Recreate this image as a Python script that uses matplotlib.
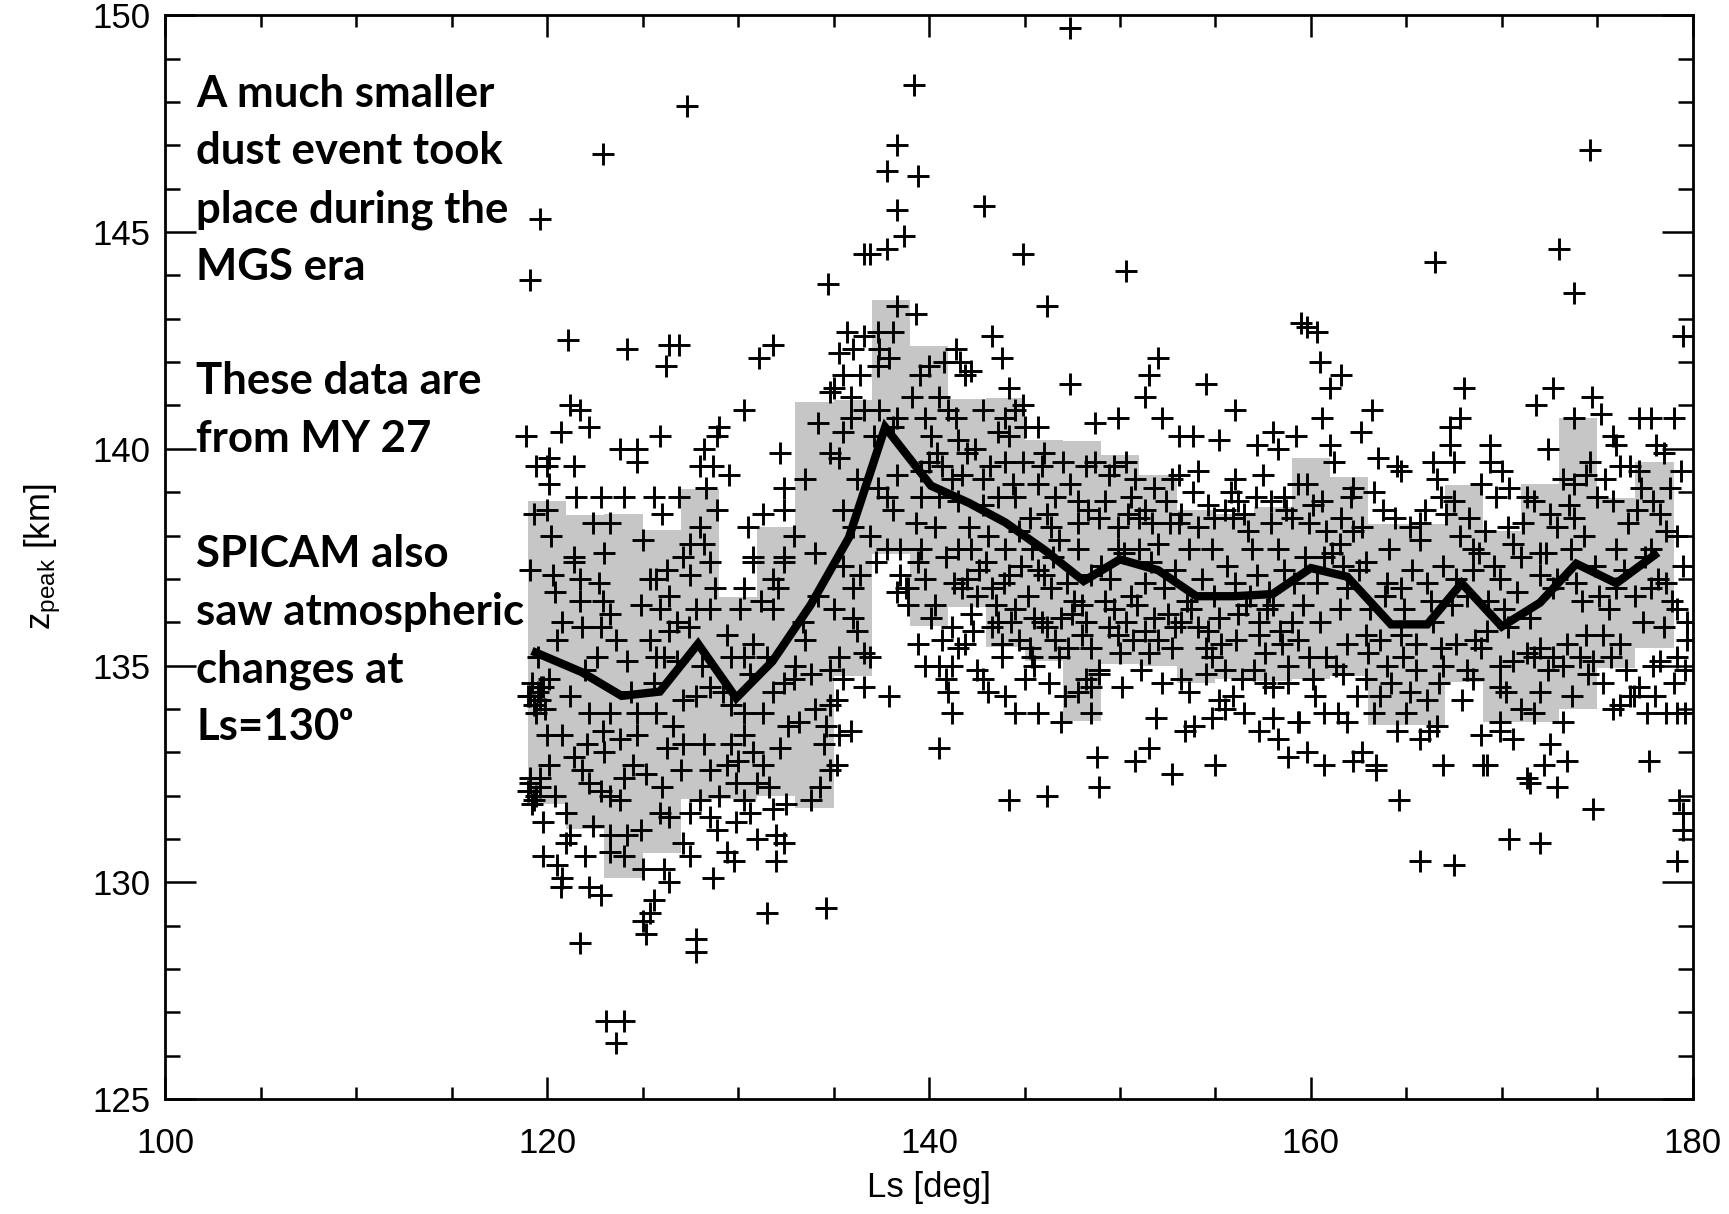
import numpy as np
import matplotlib
matplotlib.use("Agg")
import matplotlib.pyplot as plt
from matplotlib.ticker import MultipleLocator

# ---------------- data ----------------
# binned statistics (2-deg Ls bins): left edge, mean, std
bin_left = [119, 121, 123, 125, 127, 129, 131, 133, 135, 137, 139, 141, 143, 145, 147,
            149, 151, 153, 155, 157, 159, 161, 163, 165, 167, 169, 171, 173, 175, 177]
bin_mean = [135.3, 134.85, 134.3, 134.4, 135.5, 134.25, 135.1, 136.4, 137.95, 140.5,
            139.15, 138.75, 138.3, 137.65, 136.95, 137.45, 137.2, 136.6, 136.6, 136.65,
            137.25, 137.05, 135.95, 135.95, 136.9, 135.9, 136.45, 137.35, 136.9, 137.55]
bin_std = [3.5, 3.63, 4.19, 3.72, 3.57, 2.34, 3.1, 4.68, 3.18, 2.93,
           3.23, 2.4, 2.87, 2.55, 3.24, 2.41, 2.2, 2.0, 1.9, 2.0,
           2.55, 2.3, 2.32, 2.32, 2.27, 2.2, 2.75, 3.35, 1.96, 2.15]
line_ls = [119.4, 121.8, 123.9, 125.9, 127.9, 129.9, 131.8, 133.8, 135.8, 137.7,
           140.1, 142.1, 144.0, 146.1, 148.1, 150.0, 152.0, 154.0, 156.0, 158.0,
           160.0, 161.9, 164.2, 166.1, 167.9, 170.0, 172.0, 173.9, 176.0, 178.0]

# individual measurements (Ls, z_peak)
pts_early_high = [
    (127.3,147.9),(122.9,146.8),(119.6,145.3),(119.1,143.9),(134.7,143.8),(121.1,142.5),(124.2,142.3),
    (126.4,142.4),(126.9,142.4),(126.2,141.9),(131.1,142.1),(131.8,142.4),(138.3,147.0),(137.8,146.4),
    (138.3,145.5),(138.7,144.9),(136.6,144.5),(136.9,144.5),(137.8,144.6),(138.3,143.3),(135.7,142.7),
    (136.6,142.6),(137.3,142.7),(138.1,142.7),(135.3,142.2),(136.0,142.3),(137.4,142.3),(137.9,142.1),
    (135.5,141.7),(136.4,141.7),(137.3,141.9),(135.0,141.4),(134.8,141.3),(135.9,141.2),(136.6,140.9),
    (137.4,140.9),(138.3,140.7),(135.9,140.7),(135.5,140.4),(137.1,140.3),(138.1,140.5),(134.8,139.9),
    (135.3,139.8),(138.3,139.4),(137.3,139.1),(137.8,138.9),(135.5,138.6),(138.1,138.6),(136.9,138.0),
    (137.8,137.7),(138.5,137.7),(121.2,141.0),(121.7,140.9),(118.9,140.3),(120.7,140.4),(122.2,140.5),
    (125.9,140.3),(129.0,140.5),(128.9,140.3),(130.3,140.9),(123.8,140.0),(124.7,140.0),(124.7,139.7),
    (128.2,140.0),(128.0,139.6),(128.7,139.6),(132.2,139.9),(120.1,139.8),(119.4,139.6),(120.0,139.6),
    (121.4,139.6),(120.1,139.2),(121.5,138.9),(122.8,138.9),(124.0,138.9),(125.6,138.9),(126.9,138.9),
    (128.3,139.1),(132.4,139.1),(132.4,138.6),(131.3,138.5),(128.9,138.6),(119.3,138.5),(120.0,138.6),
    (122.4,138.3),(123.3,138.3),(128.0,138.2),(127.5,137.8),(128.2,137.8),(127.1,137.5),(121.4,137.5),
    (130.8,137.5),(132.4,137.5),
    (120.2,138.0),(123.0,137.6),(125.0,137.9),(126.0,138.5),(129.5,139.4),(130.5,138.2),(132.9,138.0),
    (133.5,139.3),(134.2,140.6),(134.0,137.6),(136.2,139.3),(136.0,138.2),(137.2,137.4),
]
pts_early_low = [
    (119.1,137.2),(121.4,137.4),(120.3,137.1),(121.7,137.0),(120.4,136.7),(121.7,136.5),(122.9,136.5),
    (123.3,136.2),(120.8,136.0),(121.8,135.9),(122.8,135.9),(119.5,135.2),(122.6,135.2),(124.2,135.1),
    (125.7,135.2),(125.4,137.0),(126.3,137.2),(125.7,137.0),(127.5,137.1),(128.5,137.4),(130.8,137.4),
    (132.4,137.4),(130.3,136.8),(131.8,137.0),(132.1,136.8),(125.9,136.3),(126.4,136.6),(127.8,136.3),
    (128.5,136.3),(130.1,136.3),(131.8,136.3),(125.4,135.6),(126.4,135.8),(126.8,136.0),(129.4,135.7),
    (130.8,135.5),(131.5,135.2),(130.3,135.2),(129.6,135.2),(126.1,135.2),(126.8,135.1),
    (119.8,134.5),(120.1,134.7),(119.1,134.3),(119.6,134.2),(119.9,134.0),(119.0,134.3),(119.4,133.9),
    (122.2,133.9),(123.3,133.9),(124.7,133.9),(125.7,133.9),(127.1,134.2),(127.8,134.3),(128.5,134.5),
    (129.6,134.1),(130.3,133.9),(131.3,133.9),(131.8,134.4),(132.4,134.6),(132.9,134.7),
    (120.0,133.4),(120.8,133.4),(122.1,133.2),(122.9,133.5),(123.8,133.3),(124.7,133.4),(126.3,133.1),
    (127.1,133.2),(128.2,133.2),(129.6,133.2),(130.3,133.4),(130.8,133.0),(132.2,133.1),(134.5,133.2),
    (135.3,133.4),(135.9,133.5),
    (119.1,132.3),(119.6,132.4),(119.0,132.1),(119.3,131.9),(120.1,132.7),(121.4,132.9),(122.2,132.3),
    (122.8,132.1),(123.3,132.0),(123.8,131.9),(124.5,132.7),(125.2,132.5),(128.5,132.6),(129.4,132.7),
    (129.9,132.3),(131.0,132.3),(131.3,132.7),(130.3,131.9),(134.8,132.6),(135.2,132.7),
    (119.8,131.4),(121.0,131.6),(121.2,131.1),(122.4,131.3),(123.3,131.1),(124.2,131.1),(124.9,131.2),
    (125.9,131.6),(126.4,131.5),(127.5,131.6),(128.5,131.5),(128.9,131.2),(129.9,131.4),(130.6,131.6),
    (131.8,131.7),(132.5,131.8),(132.0,131.1),(132.4,130.9),
    (119.8,130.6),(120.5,130.4),(120.8,130.1),(120.7,129.9),(123.3,130.7),(124.0,130.6),(125.0,130.3),
    (126.1,130.3),(126.4,130.0),(127.1,130.9),(128.7,130.1),(129.4,130.7),(132.0,130.5),
    (122.2,129.9),(122.8,129.7),(125.6,129.6),(125.4,129.3),(125.0,129.1),(125.2,128.8),(121.7,128.6),
    (127.8,128.7),(127.8,128.4),(131.5,129.3),(134.6,129.4),
    (123.1,126.8),(124.0,126.8),(123.6,126.3),
    (135.5,137.3),(136.4,137.1),(136.0,136.8),(138.5,137.1),(138.3,136.7),(138.8,136.8),(136.0,136.1),
    (136.2,135.8),(136.6,135.3),(135.3,135.2),(136.9,135.2),(134.8,134.9),(135.5,134.7),(136.6,134.5),
    (137.9,134.3),(135.2,134.2),(134.8,134.1),
    (119.2,134.6),(119.5,134.4),(119.3,134.1),(119.7,134.5),(119.1,132.4),(119.4,132.0),(119.2,131.8),
    (119.6,132.2),(133.5,135.6),(134.0,134.0),(133.2,133.7),(134.3,132.2),(133.8,131.9),(134.6,133.6),
    (133.4,136.0),(134.2,136.6),
    (120.5,135.6),(121.2,134.3),(122.0,134.9),(122.7,136.9),(123.6,135.6),(124.4,134.4),(124.9,136.4),
    (125.6,134.6),(126.6,133.6),(127.4,135.9),(128.1,135.0),(128.8,136.8),(129.2,134.4),(130.6,134.8),
    (131.2,136.5),(132.6,133.6),(133.0,135.0),(120.4,132.0),(121.8,132.6),(123.0,133.0),(124.0,132.4),
    (126.0,132.2),(127.0,132.6),(128.0,131.9),(129.0,132.0),(130.0,132.8),(131.6,132.2),(121.0,130.9),
    (122.0,130.6),(127.5,130.6),(129.8,130.5),(131.0,131.0),(135.0,136.3),(133.8,134.8),
]
pts_mid_high = [
    (147.4,149.7),(139.2,148.4),(139.4,146.3),(142.9,145.6),(144.9,144.5),(150.3,144.1),(146.2,143.3),
    (139.3,143.1),(159.5,142.9),(143.3,142.6),(143.8,142.1),(141.9,141.7),(142.2,141.8),(141.4,142.3),
    (140.8,142.0),(141.6,142.0),(139.5,141.7),(140.0,141.9),(152.0,142.1),(151.5,141.7),(151.3,141.2),
    (154.5,141.5),(147.4,141.5),(144.2,141.4),(156.0,140.9),(158.0,140.4),(159.2,140.3),(157.2,140.1),
    (158.3,140.0),(139.1,141.2),(140.5,141.2),(141.0,140.9),(139.8,140.7),(141.4,140.7),(142.8,140.9),
    (144.0,140.7),(144.5,140.9),(144.9,141.0),(145.7,140.5),(145.0,140.5),(140.1,140.3),(141.5,140.2),
    (142.4,140.0),(143.6,140.4),(144.2,140.3),(148.7,140.6),(149.9,140.7),(152.2,140.7),(153.1,140.3),
    (153.8,140.3),(155.2,140.2),(140.0,139.7),(140.7,139.6),(141.7,139.4),(142.8,139.3),(144.0,139.7),
    (144.9,139.7),(145.9,139.6),(147.0,139.7),(148.2,139.6),(148.7,139.7),(149.7,139.6),(150.3,139.7),
    (150.8,139.3),(152.7,139.3),(153.1,139.4),(154.1,139.5),(156.0,139.3),(157.1,138.9),(158.6,138.9),
    (159.3,139.2),(139.6,138.9),(140.5,138.9),(141.5,138.8),(142.8,138.7),(143.6,138.9),(144.5,138.9),
    (145.7,139.2),(146.6,138.9),(147.8,138.8),(149.2,138.8),(150.6,138.9),(151.3,138.6),(152.4,138.8),
    (153.2,138.5),(154.6,138.7),(155.5,138.6),(156.2,138.8),(157.9,138.8),(139.3,138.3),(140.3,138.2),
    (142.1,138.2),(143.1,138.0),(144.7,138.1),(146.2,138.5),(146.4,138.2),(147.8,138.3),(148.9,138.4),
    (149.9,138.2),(151.0,138.4),(151.7,138.3),(153.1,138.3),(154.1,138.2),(155.9,138.4),(156.7,138.1),
    (157.9,138.3),(159.0,138.4),(139.6,137.7),(141.5,137.7),(142.2,137.7),(144.0,137.7),(145.4,137.7),
    (146.8,137.9),(147.8,137.7),(149.9,137.7),(151.0,137.7),(152.0,137.8),(153.6,137.7),(154.8,137.7),
    (156.9,137.7),(158.3,137.7),
    (139.6,139.5),(140.4,139.9),(141.2,139.3),(142.0,139.9),(143.2,139.6),(144.4,139.2),(145.3,138.4),
    (146.0,139.9),(147.4,139.2),(148.3,138.6),(149.4,139.4),(150.4,138.5),(151.8,139.1),(152.6,138.3),
    (153.8,139.0),(154.9,138.4),(155.8,139.0),(156.5,138.5),(157.5,139.4),(158.7,138.6),
]
pts_mid_low = [
    (139.4,137.4),(141.7,136.8),(142.6,137.2),(143.3,136.8),(144.2,137.1),(143.5,136.4),(144.5,136.3),
    (142.2,136.2),(138.9,136.8),(138.9,136.4),(146.4,136.8),(145.7,137.2),(146.9,136.1),(148.0,136.4),
    (148.2,136.0),(149.2,136.5),(149.7,136.3),(150.6,136.6),(151.3,136.9),(151.8,136.1),(152.5,136.2),
    (153.2,136.0),(154.1,135.9),(155.2,136.1),(156.2,136.2),(157.3,136.0),(158.0,136.4),(159.0,136.0),
    (141.2,135.9),(141.9,135.5),(139.4,135.5),(141.5,135.4),(143.6,136.0),(143.8,135.5),(143.8,135.2),
    (144.7,135.6),(145.5,136.1),(145.9,136.0),(146.6,135.6),(147.3,135.4),(146.8,135.2),(148.5,135.4),
    (148.9,134.9),(149.9,135.7),(150.3,136.0),(151.3,135.8),(152.0,135.6),(152.7,135.4),(154.5,135.4),
    (154.8,135.2),(155.5,134.9),(157.3,135.7),(157.6,135.3),(158.5,135.5),(158.8,135.0),(159.3,135.6),
    (139.8,135.0),(140.5,135.0),(141.2,135.0),(141.0,134.4),(142.8,134.7),(143.1,134.4),(145.4,135.2),
    (145.5,135.0),(145.0,134.7),(147.1,134.3),(148.2,134.7),(148.5,134.5),(148.9,134.8),(152.2,134.6),
    (153.2,134.7),(154.5,134.8),(156.4,134.7),(157.6,134.6),(158.0,134.5),(158.8,134.6),
    (141.2,133.9),(144.5,133.9),(145.7,133.9),(146.9,133.7),(148.5,133.9),(151.9,133.8),(153.4,133.5),
    (153.9,133.6),(154.8,133.8),(155.2,134.2),(155.5,134.0),(156.5,133.9),(157.3,133.5),(158.0,133.8),
    (158.3,133.3),(159.3,133.7),(140.5,133.1),(148.8,132.9),(150.8,132.8),(151.5,133.1),(152.7,132.5),
    (155.0,132.7),(158.8,132.9),(144.2,131.9),(146.2,132.0),(148.9,132.2),
    (139.8,137.0),(140.3,136.4),(140.9,137.5),(141.3,136.9),(142.0,137.0),(142.5,136.6),(143.0,137.4),
    (143.9,136.9),(144.8,137.3),(145.2,136.6),(146.0,137.1),(146.5,137.5),(147.2,136.9),(147.6,136.5),
    (148.5,137.1),(149.0,137.3),(149.5,137.0),(150.2,137.6),(150.9,136.4),(151.6,137.4),(152.3,136.8),
    (152.9,137.2),(153.5,136.5),(154.3,137.0),(154.9,136.6),(155.6,137.3),(156.0,136.9),(156.6,136.4),
    (157.2,137.1),(157.8,136.7),(158.6,137.2),(159.1,136.9),
    (140.1,136.1),(140.7,135.6),(142.3,135.8),(143.3,135.9),(144.3,136.0),(145.3,135.4),(146.2,135.9),
    (147.5,136.2),(148.0,135.7),(149.4,135.9),(150.0,135.3),(150.7,135.6),(151.5,135.3),(152.9,135.9),
    (153.7,136.3),(154.6,135.8),(155.3,135.5),(156.1,135.6),(156.8,136.6),(157.7,136.3),(158.4,135.8),
    (140.9,134.7),(142.5,134.9),(144.0,134.3),(146.3,134.6),(147.8,134.4),(150.1,134.5),(151.1,134.9),
    (153.6,134.4),(155.9,134.3),(157.0,134.9),
]
pts_late_high = [
    (174.6,146.9),(166.5,144.3),(173.0,144.6),(173.8,143.6),(179.5,142.6),(159.8,142.8),(160.3,142.7),
    (160.5,142.0),(161.6,141.7),(161.0,141.4),(160.6,140.7),(161.0,140.1),(161.2,139.7),(162.6,140.4),
    (163.2,140.9),(163.5,139.8),(164.5,139.6),(164.7,139.5),(166.4,139.7),(167.3,140.5),(167.8,140.7),
    (168.0,141.4),(167.3,140.1),(167.5,139.7),(169.4,140.1),(169.4,139.7),(172.4,140.0),(171.8,141.0),
    (172.7,141.4),(174.7,141.2),(175.2,140.8),(175.8,140.3),(176.0,140.1),(173.8,140.7),(177.2,140.7),
    (177.8,140.7),(179.0,140.7),(178.1,140.1),(178.5,139.9),(176.7,139.6),(177.2,139.5),(176.2,139.6),
    (159.8,139.2),(160.1,138.7),(162.2,139.1),(162.1,138.9),(163.8,138.6),(165.2,138.2),(165.7,138.3),
    (166.8,138.9),(167.5,138.8),(167.1,138.5),(168.9,139.2),(169.7,138.9),(170.4,139.1),(171.3,138.9),
    (171.7,138.8),(172.5,138.5),(173.2,139.3),(173.8,139.2),(174.4,139.4),(175.0,138.9),(175.8,138.8),
    (177.1,138.6),(177.9,138.8),(178.8,139.1),(160.8,138.1),(161.5,137.8),(162.2,138.1),(164.1,137.7),
    (165.7,137.9),(167.8,138.0),(168.5,137.7),(170.3,138.2),(170.6,137.8),(172.0,137.6),(173.8,138.4),
    (174.3,138.0),(176.0,137.7),(177.8,137.7),(178.6,138.1),(179.2,138.0),
    (159.9,138.3),(160.6,138.8),(161.6,138.4),(162.7,138.2),(163.3,139.0),(164.4,138.4),(166.0,138.6),
    (166.6,139.3),(168.3,138.4),(169.1,138.1),(170.0,139.5),(171.1,138.3),(172.9,138.2),(173.5,138.7),
    (174.6,139.7),(175.4,139.3),(176.6,138.3),(177.3,139.1),(178.3,138.5),(179.4,139.5),
]
pts_late_low = [
    (160.7,137.5),(161.7,137.3),(162.9,137.4),(164.0,136.9),(164.7,136.8),(166.1,136.9),(167.6,137.0),
    (168.5,137.2),(169.6,137.3),(169.9,137.0),(171.0,137.5),(172.0,137.1),(172.7,136.8),(173.9,136.9),
    (175.1,136.6),(176.0,136.8),(177.8,136.8),(178.6,136.9),(179.2,136.3),(159.6,136.4),(160.5,136.0),
    (161.5,136.3),(161.9,135.5),(162.9,135.7),(163.6,135.6),(164.7,135.7),(165.5,135.5),(166.4,136.0),
    (166.8,135.4),(167.6,135.5),(168.9,135.4),(169.2,135.8),(170.3,135.9),(171.3,135.3),(172.0,135.4),
    (172.7,135.2),(173.4,135.5),(174.4,135.7),(175.3,135.7),(176.2,135.5),(177.4,136.0),(178.5,135.9),
    (179.7,136.0),(179.7,135.6),(159.9,135.2),(160.8,135.2),(161.7,134.8),(162.9,134.7),(164.0,135.0),
    (164.8,135.2),(165.5,134.9),(166.9,135.0),(168.2,134.9),(168.5,134.7),(169.9,135.0),(170.6,135.1),
    (171.7,135.2),(173.2,135.0),(174.1,135.2),(174.8,135.1),(175.7,135.2),(177.9,135.0),(178.3,135.1),
    (179.2,135.2),(160.1,134.7),(163.6,134.3),(165.2,134.4),(166.1,134.2),(169.9,134.5),(172.0,134.4),
    (175.3,134.6),(176.9,134.3),(159.4,133.7),(160.7,133.9),(161.4,133.9),(161.9,133.7),(163.3,133.9),
    (164.5,133.5),(165.7,133.3),(166.2,133.5),(166.6,133.6),(168.9,133.4),(169.9,133.7),(169.9,133.5),
    (170.6,133.3),(171.7,133.9),(172.5,133.2),(173.2,133.7),(175.8,134.0),(176.2,134.1),(176.7,134.3),
    (177.6,133.9),(178.6,133.9),(179.2,133.9),(159.8,133.0),(160.7,132.7),(162.2,132.8),(162.7,133.0),
    (163.4,132.7),(163.4,132.6),(166.9,132.7),(169.0,132.7),(169.2,132.7),(171.3,132.4),(171.5,132.3),
    (172.2,132.7),(173.4,132.8),(172.9,132.2),(177.7,132.8),(164.6,131.9),(174.8,131.7),(179.3,131.9),
    (170.4,131.0),(172.0,130.9),(165.7,130.5),(167.5,130.4),(179.2,130.5),(179.5,131.2),(179.5,131.6),
    (159.7,137.5),(160.3,136.9),(161.1,137.6),(161.9,136.8),(162.5,137.2),(163.1,136.3),(163.9,136.6),
    (164.9,136.3),(165.3,137.2),(166.3,136.5),(166.9,137.3),(167.4,136.4),(168.2,136.6),(168.8,137.6),
    (169.3,136.5),(170.1,136.3),(170.8,136.7),(171.5,136.1),(172.3,137.6),(172.9,137.0),(173.6,137.7),
    (174.2,136.5),(174.9,137.3),(175.6,136.3),(176.4,137.2),(177.0,136.6),(177.5,137.5),(178.2,137.0),
    (178.9,136.5),(179.5,137.3),
    (160.2,134.3),(161.3,135.0),(162.4,134.3),(163.0,135.3),(164.2,134.6),(165.0,133.9),(166.7,134.6),
    (167.9,134.2),(168.6,135.6),(170.2,134.4),(171.0,134.0),(172.4,134.9),(173.7,134.3),(174.5,134.8),
    (176.5,134.9),(177.2,134.5),(178.0,134.3),(179.0,134.6),(179.6,133.9),(179.6,134.9),
]

note_lines = ["A much smaller", "dust event took", "place during the", "MGS era", "",
              "These data are", "from MY 27", "",
              "SPICAM also", "saw atmospheric", "changes at", "Ls=130\u1d52"]

# ---------------- figure ----------------
plt.rcParams['font.family'] = ['Liberation Sans', 'DejaVu Sans']
plt.rcParams['mathtext.fontset'] = 'custom'
plt.rcParams['mathtext.rm'] = 'Liberation Sans'
plt.rcParams['mathtext.it'] = 'Liberation Sans'

W, H = 1729, 1214
fig = plt.figure(figsize=(W / 100, H / 100), dpi=100)
ax = fig.add_axes([165.4 / W, (H - 1099) / H, (1692.7 - 165.4) / W, (1099 - 15.4) / H])

bl = np.array(bin_left, float)
bm = np.array(bin_mean, float)
bs = np.array(bin_std, float)
ax.bar(bl, 2 * bs, bottom=bm - bs, width=2.0, align='edge', color='#c6c6c6',
       edgecolor='none', linewidth=0, zorder=1)

pts = np.array(pts_early_high + pts_early_low + pts_mid_high + pts_mid_low +
               pts_late_high + pts_late_low, float)
ax.plot(pts[:, 0], pts[:, 1], linestyle='none', marker='+', markersize=16,
        markeredgewidth=2.1, color='black', zorder=2, clip_on=True)

ax.plot(line_ls, bin_mean, color='black', linewidth=6, solid_joinstyle='miter',
        zorder=3)

ax.set_xlim(100, 180)
ax.set_ylim(125, 150)
ax.xaxis.set_major_locator(MultipleLocator(20))
ax.xaxis.set_minor_locator(MultipleLocator(5))
ax.yaxis.set_major_locator(MultipleLocator(5))
ax.yaxis.set_minor_locator(MultipleLocator(1))

for s in ax.spines.values():
    s.set_linewidth(2.0)
    s.set_color('black')

ax.tick_params(which='both', direction='in', top=True, right=True, width=1.8,
               colors='black', labelsize=25)
ax.xaxis.set_tick_params(which='major', length=15.5, pad=20)
ax.xaxis.set_tick_params(which='minor', length=8.3)
ax.yaxis.set_tick_params(which='major', length=22, pad=11)
ax.yaxis.set_tick_params(which='minor', length=10.8)

ax.set_xlabel('Ls [deg]', fontsize=25)
ax.xaxis.set_label_coords(0.5, -0.066)
ax.set_ylabel(r'z$_{\mathregular{peak}}$ [km]', fontsize=25)
ax.yaxis.set_label_coords(-0.067, 0.5)

for k, line in enumerate(note_lines):
    if not line:
        continue
    yb = 107 + 57.5 * k
    ax.text((196 - 165.4) / (1692.7 - 165.4), (1099 - yb) / (1099 - 15.4), line,
            transform=ax.transAxes, ha='left', va='baseline', fontsize=31.5,
            fontweight='bold', family=['Lato', 'DejaVu Sans'], color='black', zorder=5)

fig.savefig('out.png', dpi=100, facecolor='white')
